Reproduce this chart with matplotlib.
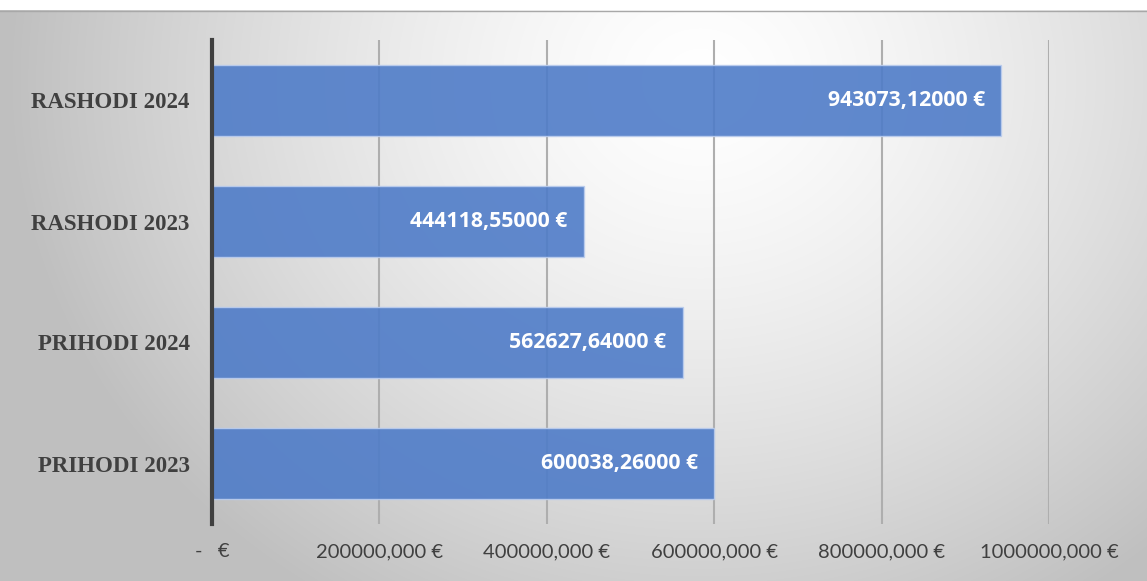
import numpy as np
import matplotlib
matplotlib.use('Agg')
import matplotlib.pyplot as plt
from matplotlib.ticker import FuncFormatter

categories = ['PRIHODI 2023', 'PRIHODI 2024', 'RASHODI 2023', 'RASHODI 2024']
values = [600038.26, 562627.64, 444118.55, 943073.12]
xticks = [0, 200000, 400000, 600000, 800000, 1000000]

W, H = 1147, 581
fig = plt.figure(figsize=(W / 100, H / 100), dpi=100)

# background: radial grey gradient, white strip on top
bg = fig.add_axes([0, 0, 1, 1])
yy, xx = np.mgrid[0:H, 0:W]
d = np.sqrt(((xx - 700) / 900.0) ** 2 + ((yy - 80) / 800.0) ** 2)
shade = np.clip(1.0 - 0.36 * d ** 1.4, 0.75, 1.0)
img = np.dstack([shade, shade, shade])
img[:10, :, :] = 1.0
bg.imshow(img, extent=[0, W, H, 0], aspect='auto')
bg.axhline(10.5, color='#A8A8A8', lw=1)
bg.set_xlim(0, W)
bg.set_ylim(H, 0)
bg.axis('off')

ax = fig.add_axes([212 / W, 1 - 524 / H, (1049 - 212) / W, (524 - 40) / H])
ax.patch.set_alpha(0)

y = np.arange(len(categories))
ax.barh(y, values, height=0.595, color='#4F7CC8', alpha=0.9,
        edgecolor='#BBCDEE', linewidth=1, zorder=3)

ax.set_xlim(0, 1000000)
ax.set_ylim(-0.5, 3.5)
ax.set_xticks(xticks)
ax.xaxis.set_major_formatter(FuncFormatter(
    lambda v, p: '-   €' if v == 0 else f'{v:.3f}'.replace('.', ',') + ' €'))
ax.set_yticks(y)
ax.set_yticklabels(categories, fontfamily='Liberation Serif', fontweight='bold',
                   fontsize=16.5, color='#404040')
for lbl in ax.get_xticklabels():
    lbl.set_fontfamily('Lato')
    lbl.set_fontsize(14.5)
    lbl.set_color('#404040')
ax.tick_params(axis='both', length=0)
ax.tick_params(axis='x', pad=14)
ax.tick_params(axis='y', pad=16)

ax.grid(axis='x', color='#AEAEAE', linewidth=1.5, zorder=1)
for s in ['top', 'right', 'bottom']:
    ax.spines[s].set_visible(False)
ax.spines['left'].set_color('#404040')
ax.spines['left'].set_linewidth(3)
ax.spines['left'].set_zorder(4)

for yi, v in zip(y, values):
    ax.annotate(f'{v:.5f}'.replace('.', ',') + ' €', xy=(v, yi), xytext=(-12, 0),
                textcoords='offset points', ha='right', va='center',
                fontfamily='Open Sans', fontweight='bold', fontsize=15.3, color='white',
                zorder=5)

fig.savefig('out.png', dpi=100)
